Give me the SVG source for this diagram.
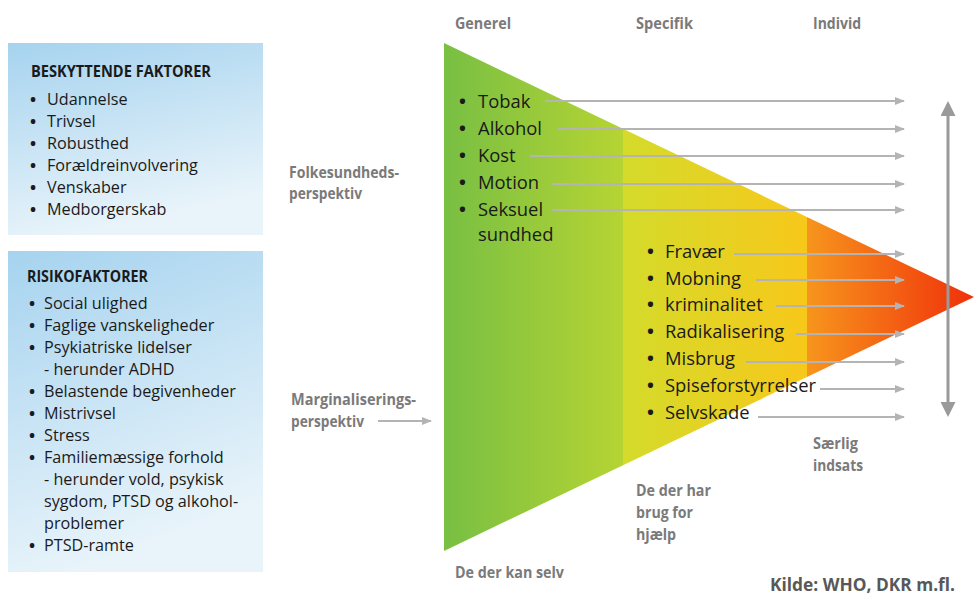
<svg xmlns="http://www.w3.org/2000/svg" width="974" height="599" viewBox="0 0 974 599">
<defs>
<linearGradient id="box" x1="0" y1="0" x2="0.3" y2="1">
<stop offset="0" stop-color="#a6d3ef"/>
<stop offset="1" stop-color="#e9f4fa"/>
</linearGradient>
<linearGradient id="g1" gradientUnits="userSpaceOnUse" x1="444" y1="0" x2="623" y2="0">
<stop offset="0" stop-color="#78bf43"/>
<stop offset="1" stop-color="#b6d433"/>
</linearGradient>
<linearGradient id="g2" gradientUnits="userSpaceOnUse" x1="623" y1="0" x2="807" y2="0">
<stop offset="0" stop-color="#d4db2b"/>
<stop offset="1" stop-color="#f7c81a"/>
</linearGradient>
<linearGradient id="g3" gradientUnits="userSpaceOnUse" x1="807" y1="0" x2="974" y2="0">
<stop offset="0" stop-color="#f7951d"/>
<stop offset="1" stop-color="#f0300a"/>
</linearGradient>
<clipPath id="tri"><polygon points="444,43 974,297 444,551"/></clipPath>
<marker id="ah" viewBox="0 0 10 10" refX="9" refY="5" markerWidth="5" markerHeight="5" orient="auto" markerUnits="strokeWidth">
<path d="M0,1 L10,5 L0,9 z" fill="#b4b4b4"/>
</marker>
<marker id="ahd" viewBox="0 0 10 10" refX="8" refY="5" markerWidth="5" markerHeight="5" orient="auto-start-reverse" markerUnits="strokeWidth">
<path d="M0,0 L10,5 L0,10 z" fill="#9a9a9a"/>
</marker>
</defs>
<style>
.h{font-family:"Open Sans","Liberation Sans",sans-serif;font-weight:bold;font-size:16px;fill:#1a1a1a}
.li{font-family:"Open Sans","Noto Sans",sans-serif;font-size:16.2px;fill:#1a1a1a}
.ti{font-family:"Open Sans","Noto Sans",sans-serif;font-size:18.4px;fill:#1a1a1a}
.b{font-weight:bold}
.lab{font-family:"Open Sans","Liberation Sans",sans-serif;font-weight:bold;font-size:16px;fill:#7a7a7a}
.src{font-family:"Open Sans","Liberation Sans",sans-serif;font-weight:bold;font-size:18px;fill:#585858}
.ln{stroke:#b4b4b4;stroke-width:2;fill:none;marker-end:url(#ah)}
</style>

<g id="beskyttende">
<rect x="8" y="43" width="255" height="192" fill="url(#box)"/>
<text class="h" x="31" y="77" textLength="180" lengthAdjust="spacingAndGlyphs">BESKYTTENDE FAKTORER</text>
<g class="li">
<text class="b" x="30" y="105">•</text><text x="47" y="105">Udannelse</text>
<text class="b" x="30" y="127">•</text><text x="47" y="127">Trivsel</text>
<text class="b" x="30" y="149">•</text><text x="47" y="149">Robusthed</text>
<text class="b" x="30" y="171">•</text><text x="47" y="171">Forældreinvolvering</text>
<text class="b" x="30" y="193">•</text><text x="47" y="193">Venskaber</text>
<text class="b" x="30" y="215">•</text><text x="47" y="215">Medborgerskab</text>
</g>
</g>

<g id="risiko">
<rect x="8" y="251" width="255" height="321" fill="url(#box)"/>
<text class="h" x="27" y="282" textLength="121" lengthAdjust="spacingAndGlyphs">RISIKOFAKTORER</text>
<g class="li">
<text class="b" x="29" y="309">•</text><text x="44" y="309">Social ulighed</text>
<text class="b" x="29" y="331">•</text><text x="44" y="331">Faglige vanskeligheder</text>
<text class="b" x="29" y="353">•</text><text x="44" y="353">Psykiatriske lidelser</text>
<text x="44" y="375">- herunder ADHD</text>
<text class="b" x="29" y="397">•</text><text x="44" y="397">Belastende begivenheder</text>
<text class="b" x="29" y="419">•</text><text x="44" y="419">Mistrivsel</text>
<text class="b" x="29" y="441">•</text><text x="44" y="441">Stress</text>
<text class="b" x="29" y="463">•</text><text x="44" y="463">Familiemæssige forhold</text>
<text x="44" y="485">- herunder vold, psykisk</text>
<text x="44" y="507">sygdom, PTSD og alkohol-</text>
<text x="44" y="529">problemer</text>
<text class="b" x="29" y="551">•</text><text x="44" y="551">PTSD-ramte</text>
</g>
</g>

<g id="triangle">
<g clip-path="url(#tri)">
<rect x="444" y="40" width="179" height="515" fill="url(#g1)"/>
<rect x="623" y="40" width="184" height="515" fill="url(#g2)"/>
<rect x="807" y="40" width="170" height="515" fill="url(#g3)"/>
</g>
</g>

<g id="headers">
<text class="lab" x="455" y="29" textLength="56" lengthAdjust="spacingAndGlyphs">Generel</text>
<text class="lab" x="636" y="29" textLength="57" lengthAdjust="spacingAndGlyphs">Specifik</text>
<text class="lab" x="813" y="29" textLength="48" lengthAdjust="spacingAndGlyphs">Individ</text>
</g>

<g id="perspektiv">
<text class="lab" x="289" y="178" textLength="110" lengthAdjust="spacingAndGlyphs">Folkesundheds-</text>
<text class="lab" x="289" y="199" textLength="73" lengthAdjust="spacingAndGlyphs">perspektiv</text>
<text class="lab" x="291" y="405" textLength="125" lengthAdjust="spacingAndGlyphs">Marginaliserings-</text>
<text class="lab" x="291" y="427" textLength="73" lengthAdjust="spacingAndGlyphs">perspektiv</text>
</g>

<g id="generelle">
<g class="ti">
<text class="b" x="459" y="108">•</text><text x="478" y="108">Tobak</text>
<text class="b" x="459" y="135">•</text><text x="478" y="135">Alkohol</text>
<text class="b" x="459" y="162">•</text><text x="478" y="162">Kost</text>
<text class="b" x="459" y="189">•</text><text x="478" y="189">Motion</text>
<text class="b" x="459" y="216">•</text><text x="478" y="216">Seksuel</text>
<text x="478" y="241">sundhed</text>
</g>
</g>

<g id="specifikke">
<g class="ti">
<text class="b" x="647" y="258">•</text><text x="665" y="258">Fravær</text>
<text class="b" x="647" y="285">•</text><text x="665" y="285">Mobning</text>
<text class="b" x="647" y="311">•</text><text x="665" y="311">kriminalitet</text>
<text class="b" x="647" y="338">•</text><text x="665" y="338">Radikalisering</text>
<text class="b" x="647" y="365">•</text><text x="665" y="365">Misbrug</text>
<text class="b" x="647" y="392">•</text><text x="665" y="392">Spiseforstyrrelser</text>
<text class="b" x="647" y="419">•</text><text x="665" y="419">Selvskade</text>
</g>
</g>

<g id="connectors">
<line class="ln" x1="545" y1="101" x2="904" y2="101"/>
<line class="ln" x1="558" y1="129" x2="904" y2="129"/>
<line class="ln" x1="530" y1="156" x2="904" y2="156"/>
<line class="ln" x1="552" y1="184" x2="904" y2="184"/>
<line class="ln" x1="552" y1="210" x2="904" y2="210"/>
<line class="ln" x1="734" y1="254" x2="904" y2="254"/>
<line class="ln" x1="756" y1="280" x2="904" y2="280"/>
<line class="ln" x1="776" y1="306" x2="904" y2="306"/>
<line class="ln" x1="796" y1="334" x2="904" y2="334"/>
<line class="ln" x1="746" y1="362" x2="904" y2="362"/>
<line class="ln" x1="820" y1="389" x2="904" y2="389"/>
<line class="ln" x1="758" y1="417" x2="904" y2="417"/>
<line class="ln" x1="378" y1="421" x2="431" y2="421"/>
<line x1="948" y1="104" x2="948" y2="414" stroke="#9a9a9a" stroke-width="3" marker-start="url(#ahd)" marker-end="url(#ahd)"/>
</g>

<g id="bottom-labels">
<text class="lab" x="813" y="449" textLength="45" lengthAdjust="spacingAndGlyphs">Særlig</text>
<text class="lab" x="813" y="471" textLength="50" lengthAdjust="spacingAndGlyphs">indsats</text>
<text class="lab" x="636" y="496" textLength="75" lengthAdjust="spacingAndGlyphs">De der har</text>
<text class="lab" x="636" y="518" textLength="57" lengthAdjust="spacingAndGlyphs">brug for</text>
<text class="lab" x="636" y="540" textLength="40" lengthAdjust="spacingAndGlyphs">hjælp</text>
<text class="lab" x="455" y="578" textLength="109" lengthAdjust="spacingAndGlyphs">De der kan selv</text>
<text class="src" x="770" y="591" textLength="185" lengthAdjust="spacingAndGlyphs">Kilde: WHO, DKR m.fl.</text>
</g>
</svg>
